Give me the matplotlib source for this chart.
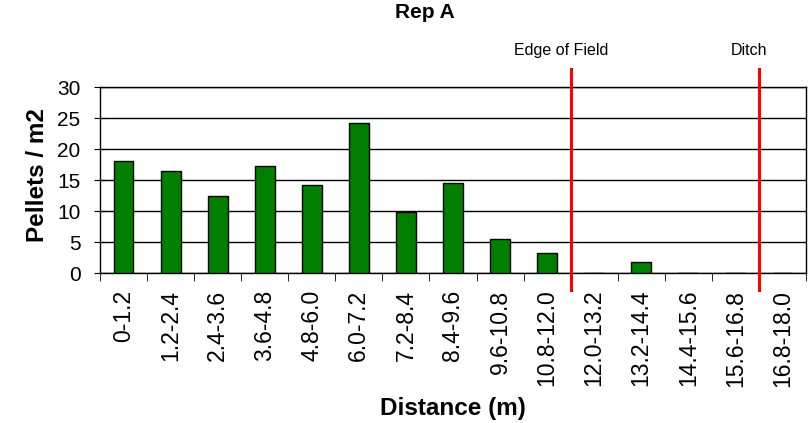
import numpy as np
import matplotlib
matplotlib.use("Agg")
import matplotlib.pyplot as plt

plt.rcParams['font.family'] = ['Liberation Sans', 'DejaVu Sans']

# distance classes and pellet counts (Rep A)
labels = ["0-1.2", "1.2-2.4", "2.4-3.6", "3.6-4.8", "4.8-6.0", "6.0-7.2",
          "7.2-8.4", "8.4-9.6", "9.6-10.8", "10.8-12.0", "12.0-13.2",
          "13.2-14.4", "14.4-15.6", "15.6-16.8", "16.8-18.0"]
pellets = [18.0, 16.5, 12.5, 17.2, 14.2, 24.2, 9.8, 14.5, 5.5, 3.2, 0, 1.8, 0, 0, 0]
yticks = [0, 5, 10, 15, 20, 25, 30]
markers = ["Edge of Field", "Ditch"]
marker_after = ["10.8-12.0", "15.6-16.8"]

fig = plt.figure(figsize=(8.1, 4.23), dpi=100)
ax = fig.add_axes([0.1235, 0.3546, 0.8715, 0.4397])

x = np.arange(len(labels))
ax.bar(x, pellets, width=0.42, color="#007f00", edgecolor="black", linewidth=1, zorder=3)

ax.set_xlim(-0.5, len(labels) - 0.5)
ax.set_ylim(0, 30)
ax.set_yticks(yticks)
ax.yaxis.grid(True, color="black", linewidth=1, zorder=0)
ax.tick_params(axis="y", direction="inout", length=8, labelsize=15, pad=10)

ax.set_xticks(x)
ax.set_xticklabels(labels, rotation=90, fontsize=16.5)
ax.tick_params(axis="x", length=0, pad=12)
ax.set_xticks(np.arange(len(labels) + 1) - 0.5, minor=True)
ax.tick_params(axis="x", which="minor", direction="out", length=6)

for s in ax.spines.values():
    s.set_color("black")
    s.set_linewidth(1)

# red marker lines with their captions
for name, after in zip(markers, marker_after):
    xm = labels.index(after) + 0.5
    ax.plot([xm, xm], [-2.7, 32.9], color="red", linewidth=2.2, clip_on=False, zorder=4)
    ax.text(xm - 0.2, 35.2, name, ha="center", va="baseline", fontsize=11.5)

ax.set_xlabel("Distance (m)", fontsize=17.5, fontweight="bold", va="center")
ax.xaxis.set_label_coords(0.5, -0.726)
ax.set_ylabel("Pellets / m2", fontsize=17.5, fontweight="bold", va="center")
ax.yaxis.set_label_coords(-0.088, 0.527)
fig.text(425 / 810, 1 - 12 / 423, "Rep A", ha="center", va="center",
         fontsize=15, fontweight="bold")

fig.savefig("out.png", dpi=100)
